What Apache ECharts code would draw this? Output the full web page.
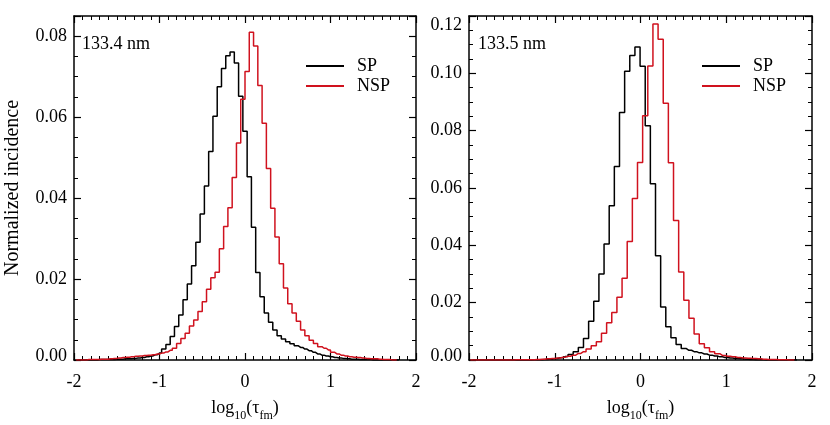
<!DOCTYPE html>
<html lang="en">

<head>
    <meta charset="UTF-8">
    <title>Normalized incidence</title>
    <style>
        html, body { margin: 0; padding: 0; background: #fff; }
        #chart { width: 830px; height: 425px; }
    </style>
</head>

<body>
    <div id="chart"></div>
    <script src="https://cdn.jsdelivr.net/npm/echarts@6.0.0/dist/echarts.min.js"></script>
    <script>
        var seriesNames = ['SP', 'NSP']
        var panelLabels = ['133.4 nm', '133.5 nm']
        var xTickValues = [-2, -1, 0, 1, 2]
        var yMax = [0.085, 0.12]

        // 133.4 nm, bins of 0.05
        var binWidth1 = 0.05
        var spStart1 = -1.95
        var sp1 = [
            0, 0, 0, 0, 0, 0.0001, 0.0001, 0.0001, 0.0001, 0.0002,
            0.0002, 0.0003, 0.0003, 0.0004, 0.0005, 0.0006, 0.0008, 0.0010, 0.0013, 0.0017,
            0.0027, 0.0038, 0.0058, 0.0083, 0.0111, 0.0149, 0.0188, 0.0233, 0.0291, 0.0361,
            0.0430, 0.0515, 0.0602, 0.0675, 0.0720, 0.0752, 0.0761, 0.0734, 0.0652, 0.0565,
            0.0453, 0.0328, 0.0216, 0.0156, 0.0116, 0.0093, 0.0074, 0.0060, 0.0052, 0.0045,
            0.0040, 0.0035, 0.0031, 0.0027, 0.0023, 0.0019, 0.0015, 0.0012, 0.0010, 0.0008,
            0.0006, 0.0005, 0.0004, 0.0003, 0.0002, 0.0002, 0.0001, 0.0001, 0.0001, 0,
            0, 0, 0, 0, 0, 0
        ]
        var nspStart1 = -1.975
        var nsp1 = [
            0, 0, 0, 0.0001, 0.0001, 0.0001, 0.0002, 0.0002, 0.0003, 0.0004,
            0.0005, 0.0006, 0.0007, 0.0008, 0.0009, 0.0010, 0.0011, 0.0012, 0.0013, 0.0015,
            0.0017, 0.0020, 0.0024, 0.0029, 0.0041, 0.0053, 0.0066, 0.0084, 0.0099, 0.0120,
            0.0144, 0.0175, 0.0203, 0.0217, 0.0275, 0.0330, 0.0376, 0.0451, 0.0536, 0.0644,
            0.0713, 0.0810, 0.0776, 0.0678, 0.0585, 0.0473, 0.0375, 0.0304, 0.0238, 0.0178,
            0.0139, 0.0116, 0.0096, 0.0074, 0.0060, 0.0049, 0.0041, 0.0033, 0.0029, 0.0025,
            0.0019, 0.0015, 0.0012, 0.0010, 0.0008, 0.0007, 0.0006, 0.0005, 0.0004, 0.0003,
            0.0003, 0.0002, 0.0001, 0.0001, 0, 0
        ]

        // 133.5 nm, bins of 0.06
        var binWidth2 = 0.06
        var spStart2 = -1.955
        var sp2 = [
            0, 0, 0, 0, 0, 0, 0, 0, 0, 0,
            0, 0, 0.0001, 0.0001, 0.0002, 0.0003, 0.0005, 0.0008, 0.0012, 0.0019,
            0.0029, 0.0044, 0.0075, 0.0135, 0.0205, 0.0300, 0.0405, 0.0538, 0.0675, 0.0863,
            0.1007, 0.1062, 0.1092, 0.1025, 0.0817, 0.0615, 0.0364, 0.0185, 0.0116, 0.0078,
            0.0054, 0.0040, 0.0034, 0.0029, 0.0025, 0.0021, 0.0017, 0.0014, 0.0011, 0.0009,
            0.0007, 0.0005, 0.0004, 0.0003, 0.0002, 0.0001, 0.0001, 0, 0, 0,
            0, 0, 0, 0
        ]
        var nspStart2 = -1.985
        var nsp2 = [
            0, 0, 0, 0, 0, 0, 0, 0, 0, 0.0001,
            0.0001, 0.0001, 0.0001, 0.0002, 0.0003, 0.0004, 0.0005, 0.0007, 0.0010, 0.0013,
            0.0017, 0.0023, 0.0029, 0.0038, 0.0050, 0.0064, 0.0093, 0.0130, 0.0166, 0.0219,
            0.0285, 0.0413, 0.0563, 0.0689, 0.0852, 0.1026, 0.1172, 0.1119, 0.0896, 0.0688,
            0.0487, 0.0307, 0.0208, 0.0146, 0.0091, 0.0057, 0.0043, 0.0029, 0.0022, 0.0016,
            0.0013, 0.0011, 0.0009, 0.0007, 0.0006, 0.0005, 0.0004, 0.0003, 0.0002, 0.0002,
            0.0001, 0.0001, 0, 0
        ]

        var font = '"Liberation Serif", "Times New Roman", serif'
        var black = '#000000'
        var red = '#d0121e'
        var grids = [
            { left: 74, top: 16, width: 342, height: 344 },
            { left: 469, top: 16, width: 343, height: 344 }
        ]

        function toPairs(start, width, values) {
            return values.map(function (v, i) {
                return [Math.round((start + i * width) * 1000) / 1000, v]
            })
        }

        function xAxes(g) {
            var base = {
                gridIndex: g,
                type: 'value',
                min: xTickValues[0],
                max: xTickValues[xTickValues.length - 1],
                interval: 1,
                axisLine: { onZero: false, lineStyle: { color: black, width: 1.5 } },
                axisTick: { inside: true, length: 7, lineStyle: { color: black, width: 1.2 } },
                minorTick: { show: true, splitNumber: 10, length: 4, lineStyle: { color: black, width: 1 } },
                splitLine: { show: false }
            }
            var bottom = Object.assign({}, base, {
                position: 'bottom',
                axisLabel: { color: black, fontFamily: font, fontSize: 18, margin: 13 },
                name: '{a|log}{b|10}{a|(τ}{b|fm}{a|)}',
                nameLocation: 'middle',
                nameGap: 39,
                nameTextStyle: {
                    rich: {
                        a: { fontFamily: font, fontSize: 18, color: black, lineHeight: 24, verticalAlign: 'top' },
                        b: { fontFamily: font, fontSize: 12, color: black, lineHeight: 12, verticalAlign: 'top', padding: [11, 0, 0, 0] }
                    }
                }
            })
            var top = Object.assign({}, base, { position: 'top', axisLabel: { show: false } })
            return [bottom, top]
        }

        function yAxes(g) {
            var max = yMax[g]
            var major = {
                gridIndex: g,
                type: 'value',
                min: 0,
                max: max,
                interval: 0.02,
                axisLine: { onZero: false, lineStyle: { color: black, width: 1.5 } },
                axisTick: { inside: true, length: 7, lineStyle: { color: black, width: 1.2 } },
                splitLine: { show: false }
            }
            var minor = {
                gridIndex: g,
                type: 'value',
                min: 0,
                max: max,
                interval: 0.005,
                axisLine: { show: false, onZero: false },
                axisTick: { inside: true, length: 4, lineStyle: { color: black, width: 1 } },
                axisLabel: { show: false },
                splitLine: { show: false }
            }
            var left = Object.assign({}, major, {
                position: 'left',
                axisLabel: {
                    color: black, fontFamily: font, fontSize: 18, margin: 7,
                    formatter: function (v) {
                        var k = v / 0.02
                        if (Math.abs(k - Math.round(k)) > 1e-6) return ''
                        var s = v.toFixed(2)
                        if (v === 0) return '{bot|' + s + '}'
                        if (Math.abs(v - max) < 1e-9) return '{top|' + s + '}'
                        return s
                    },
                    rich: {
                        top: { fontFamily: font, fontSize: 18, color: black, padding: [18, 0, 0, 0] },
                        bot: { fontFamily: font, fontSize: 18, color: black, padding: [0, 0, 8, 0] }
                    }
                }
            })
            if (g === 0) {
                left.name = 'Normalized incidence'
                left.nameLocation = 'middle'
                left.nameGap = 51
                left.nameTextStyle = { fontFamily: font, fontSize: 20, color: black }
            }
            var right = Object.assign({}, major, { position: 'right', axisLabel: { show: false } })
            return [left,
                Object.assign({}, minor, { position: 'left' }),
                right,
                Object.assign({}, minor, { position: 'right' })]
        }

        function histSeries(name, color, g, data) {
            return {
                name: name,
                type: 'line',
                step: 'middle',
                xAxisIndex: g * 2,
                yAxisIndex: g * 4,
                data: data,
                symbol: 'none',
                lineStyle: { color: color, width: 1.5 },
                itemStyle: { color: color },
                animation: false
            }
        }

        function legendAt(left, top) {
            return {
                data: seriesNames,
                orient: 'vertical',
                left: left,
                top: top,
                padding: 0,
                itemGap: 2,
                itemWidth: 38,
                itemHeight: 2,
                icon: 'rect',
                selectedMode: false,
                textStyle: { fontFamily: font, fontSize: 18, color: black, padding: [0, 0, 0, 8] }
            }
        }

        var chart = echarts.init(document.getElementById('chart'))
        var option = {
            backgroundColor: '#fff',
            animation: false,
            grid: grids.map(function (g) {
                return Object.assign({ outerBoundsMode: 'none', containLabel: false }, g)
            }),
            xAxis: xAxes(0).concat(xAxes(1)),
            yAxis: yAxes(0).concat(yAxes(1)),
            legend: [legendAt(306, 57), legendAt(702, 57)],
            graphic: [
                { type: 'text', left: 82, top: 35, style: { text: panelLabels[0], font: '18px ' + font, fill: black } },
                { type: 'text', left: 478, top: 35, style: { text: panelLabels[1], font: '18px ' + font, fill: black } }
            ],
            series: [
                histSeries(seriesNames[0], black, 0, toPairs(spStart1, binWidth1, sp1)),
                histSeries(seriesNames[1], red, 0, toPairs(nspStart1, binWidth1, nsp1)),
                histSeries(seriesNames[0], black, 1, toPairs(spStart2, binWidth2, sp2)),
                histSeries(seriesNames[1], red, 1, toPairs(nspStart2, binWidth2, nsp2))
            ]
        }
        chart.setOption(option)
    </script>
</body>

</html>
